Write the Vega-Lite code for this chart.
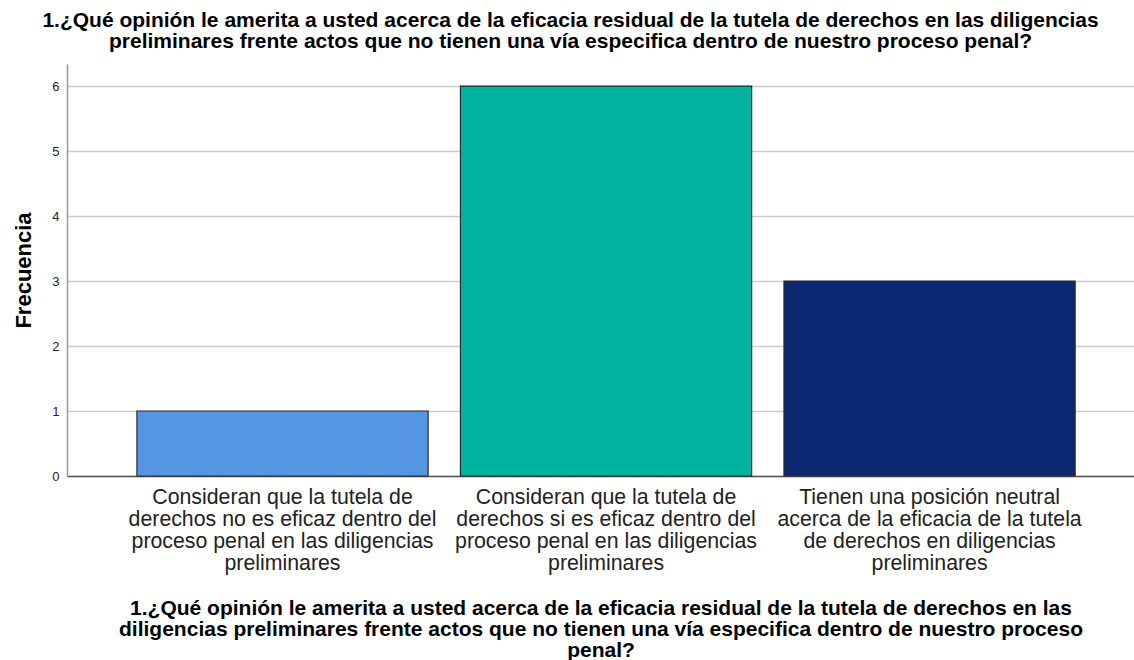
{
  "$schema": "https://vega.github.io/schema/vega-lite/v6.json",
  "autosize": "none",
  "width": 1067,
  "height": 412,
  "padding": {"left": 67, "top": 64, "right": 0, "bottom": 184},
  "background": "white",
  "title": {
    "text": ["1.¿Qué opinión le amerita a usted acerca de la eficacia residual de la tutela de derechos en las diligencias", "preliminares frente actos que no tienen una vía especifica dentro de nuestro proceso penal?"],
    "font": "Liberation Sans",
    "fontSize": 21,
    "fontWeight": "bold",
    "color": "#000000",
    "lineHeight": 21,
    "anchor": "middle",
    "dx": -30,
    "offset": 12
  },
  "data": {
    "values": [
      {"categoria": "Consideran que la tutela de derechos no es eficaz dentro del proceso penal en las diligencias preliminares", "frecuencia": 1},
      {"categoria": "Consideran que la tutela de derechos si es eficaz dentro del proceso penal en las diligencias preliminares", "frecuencia": 6},
      {"categoria": "Tienen una posición neutral acerca de la eficacia de la tutela de derechos en diligencias preliminares", "frecuencia": 3}
    ]
  },
  "mark": {"type": "bar", "stroke": "#2a2a2a", "strokeWidth": 1.2},
  "encoding": {
    "x": {
      "field": "categoria",
      "type": "nominal",
      "sort": null,
      "scale": {"paddingInner": 0.1, "paddingOuter": 0.199, "align": 0.543},
      "axis": {
        "title": ["1.¿Qué opinión le amerita a usted acerca de la eficacia residual de la tutela de derechos en las", "diligencias preliminares frente actos que no tienen una vía especifica dentro de nuestro proceso", "penal?"],
        "titleFont": "Liberation Sans",
        "titleFontSize": 21,
        "titleFontWeight": "bold",
        "titleColor": "#000000",
        "titleLineHeight": 21,
        "titlePadding": 24,
        "labelAngle": 0,
        "labelFont": "Liberation Sans",
        "labelFontSize": 21.3,
        "labelColor": "#222222",
        "labelLineHeight": 22,
        "labelPadding": 10,
        "labelLimit": 0,
        "labelExpr": "indexof(datum.label, 'no es eficaz') >= 0 ? ['Consideran que la tutela de', 'derechos no es eficaz dentro del', 'proceso penal en las diligencias', 'preliminares'] : indexof(datum.label, 'si es eficaz') >= 0 ? ['Consideran que la tutela de', 'derechos si es eficaz dentro del', 'proceso penal en las diligencias', 'preliminares'] : ['Tienen una posición neutral', 'acerca de la eficacia de la tutela', 'de derechos en diligencias', 'preliminares']",
        "ticks": false,
        "domainColor": "#555555",
        "domainWidth": 1.5,
        "grid": false
      }
    },
    "y": {
      "field": "frecuencia",
      "type": "quantitative",
      "scale": {"domain": [0, 6.34], "nice": false},
      "axis": {
        "title": "Frecuencia",
        "titleFont": "Liberation Sans",
        "titleFontSize": 22,
        "titleFontWeight": "bold",
        "titleColor": "#000000",
        "titlePadding": 16,
        "values": [0, 1, 2, 3, 4, 5, 6],
        "labelFont": "Liberation Sans",
        "labelFontSize": 13,
        "labelColor": "#222222",
        "labelPadding": 8,
        "ticks": false,
        "domainColor": "#999999",
        "domainWidth": 1.5,
        "grid": true,
        "gridColor": "#cccccc",
        "gridWidth": 1.5
      }
    },
    "color": {
      "field": "categoria",
      "type": "nominal",
      "sort": null,
      "scale": {"range": ["#5596E3", "#00B3A0", "#0B2870"]},
      "legend": null
    }
  },
  "config": {"view": {"stroke": null}}
}
